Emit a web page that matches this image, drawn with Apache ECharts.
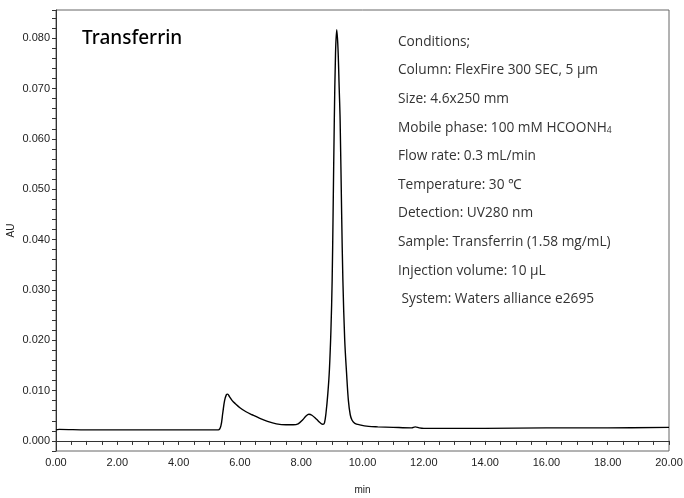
<!DOCTYPE html>
<html>
<head>
<meta charset="utf-8">
<script src="https://cdn.jsdelivr.net/npm/echarts@6/dist/echarts.min.js"></script>
<style>
html,body{margin:0;padding:0;background:#fff;}
#chart{width:684px;height:498px;}
</style>
</head>
<body>
<div id="chart"></div>
<script>
// Retention time (min)
const timeMin = [0, 0.1, 1, 2, 3, 4, 5, 5.3, 5.38, 5.44, 5.5, 5.56, 5.6, 5.66, 5.75, 5.85, 6.0, 6.2, 6.4, 6.65, 6.9, 7.19, 7.5, 7.74, 7.9, 8.05, 8.15, 8.25, 8.35, 8.5, 8.62, 8.71, 8.76, 8.81, 8.87, 8.92, 8.97, 9.01, 9.04, 9.08, 9.12, 9.16, 9.2, 9.24, 9.27, 9.32, 9.36, 9.42, 9.48, 9.54, 9.6, 9.66, 9.75, 9.91, 10.2, 10.5, 11, 11.6, 11.72, 11.85, 12, 14, 16, 18, 20];
// Absorbance (AU)
const absorbance = [0.0022, 0.0023, 0.0022, 0.0022, 0.0022, 0.0022, 0.0022, 0.0022, 0.0030, 0.0055, 0.0080, 0.0092, 0.0093, 0.0088, 0.0080, 0.0074, 0.0066, 0.0058, 0.0052, 0.0045, 0.0039, 0.0034, 0.0032, 0.0032, 0.0034, 0.0042, 0.0049, 0.0053, 0.0051, 0.0043, 0.0036, 0.0033, 0.0036, 0.0056, 0.0095, 0.0141, 0.0220, 0.0319, 0.0450, 0.0637, 0.0770, 0.0817, 0.0780, 0.0700, 0.0637, 0.0450, 0.0319, 0.0200, 0.0135, 0.0080, 0.0052, 0.0041, 0.0035, 0.0032, 0.0029, 0.0028, 0.0027, 0.0026, 0.0028, 0.0026, 0.0025, 0.0025, 0.0026, 0.0026, 0.0027];
// Tick labels
const yLabelValues = [0, 0.01, 0.02, 0.03, 0.04, 0.05, 0.06, 0.07, 0.08];
const xMin = 0, xMax = 20, xStep = 2;
const yMin = -0.002, yMax = 0.0856, yMinorStep = 0.002;
const sampleTitle = 'Transferrin';
const conditionLines = [
  'Conditions;',
  'Column: FlexFire 300 SEC, 5 µm',
  'Size: 4.6x250 mm',
  'Mobile phase: 100 mM HCOONH{sub|4}',
  'Flow rate: 0.3 mL/min',
  'Temperature: 30 ℃',
  'Detection: UV280 nm',
  'Sample: Transferrin (1.58 mg/mL)',
  'Injection volume: 10 µL',
  ' System: Waters alliance e2695'
];

const data = timeMin.map((t, i) => [t, absorbance[i]]);

const graphics = [{
  type: 'text', left: 82, top: 29,
  style: { text: sampleTitle, font: '500 19px "Noto Sans", sans-serif', fill: '#000' }
}];
conditionLines.forEach((line, i) => {
  graphics.push({
    type: 'text', left: 398, top: 35 + i * 28.6,
    style: {
      text: line, fontFamily: '"Open Sans", sans-serif', fontSize: 13.7, fill: '#333',
      rich: { sub: { fontSize: 8.5, fontFamily: '"Open Sans", sans-serif', fill: '#333', verticalAlign: 'bottom', padding: [5, 0, 0, 0] } }
    }
  });
});

const labelFont = 'Liberation Sans, Arial, sans-serif';
const chart = echarts.init(document.getElementById('chart'), null, { renderer: 'canvas' });
chart.setOption({
  animation: false,
  backgroundColor: '#fff',
  grid: { left: 56, right: 15, top: 10, bottom: 47, show: true, borderColor: '#666', borderWidth: 1,
    containLabel: false, outerBoundsMode: 'none' },
  xAxis: {
    type: 'value', min: xMin, max: xMax, interval: xStep,
    name: 'min', nameLocation: 'middle', nameGap: 34, nameMoveOverlap: false,
    nameTextStyle: { fontSize: 10, color: '#222', fontFamily: labelFont },
    axisLine: { lineStyle: { color: '#333', width: 1 } },
    axisTick: { length: 4, lineStyle: { color: '#333' } },
    minorTick: { show: true, splitNumber: 4, length: 4, lineStyle: { color: '#333' } },
    splitLine: { show: false },
    axisLabel: { fontSize: 11, color: '#222', margin: 6, fontFamily: labelFont,
      formatter: v => v.toFixed(2) }
  },
  yAxis: [{
    type: 'value', min: yMin, max: yMax,
    name: 'AU', nameLocation: 'middle', nameGap: 40, nameMoveOverlap: false,
    nameTextStyle: { fontSize: 10, color: '#222', fontFamily: labelFont },
    axisLine: { show: true, lineStyle: { color: '#333', width: 1 } },
    axisTick: { show: false },
    splitLine: { show: false },
    axisLabel: { fontSize: 11, color: '#222', margin: 6, customValues: yLabelValues,
      fontFamily: labelFont, formatter: v => v.toFixed(3) }
  }, {
    type: 'value', min: yMin, max: yMax, interval: yMinorStep, position: 'left',
    axisLine: { show: false },
    axisTick: { show: true, length: 4, lineStyle: { color: '#333' } },
    axisLabel: { show: false },
    splitLine: { show: false }
  }],
  graphic: graphics,
  series: [{
    type: 'line', data: data, showSymbol: false, smooth: 0.35, yAxisIndex: 0,
    lineStyle: { color: '#000', width: 1.4 }
  }]
});
</script>
</body>
</html>
